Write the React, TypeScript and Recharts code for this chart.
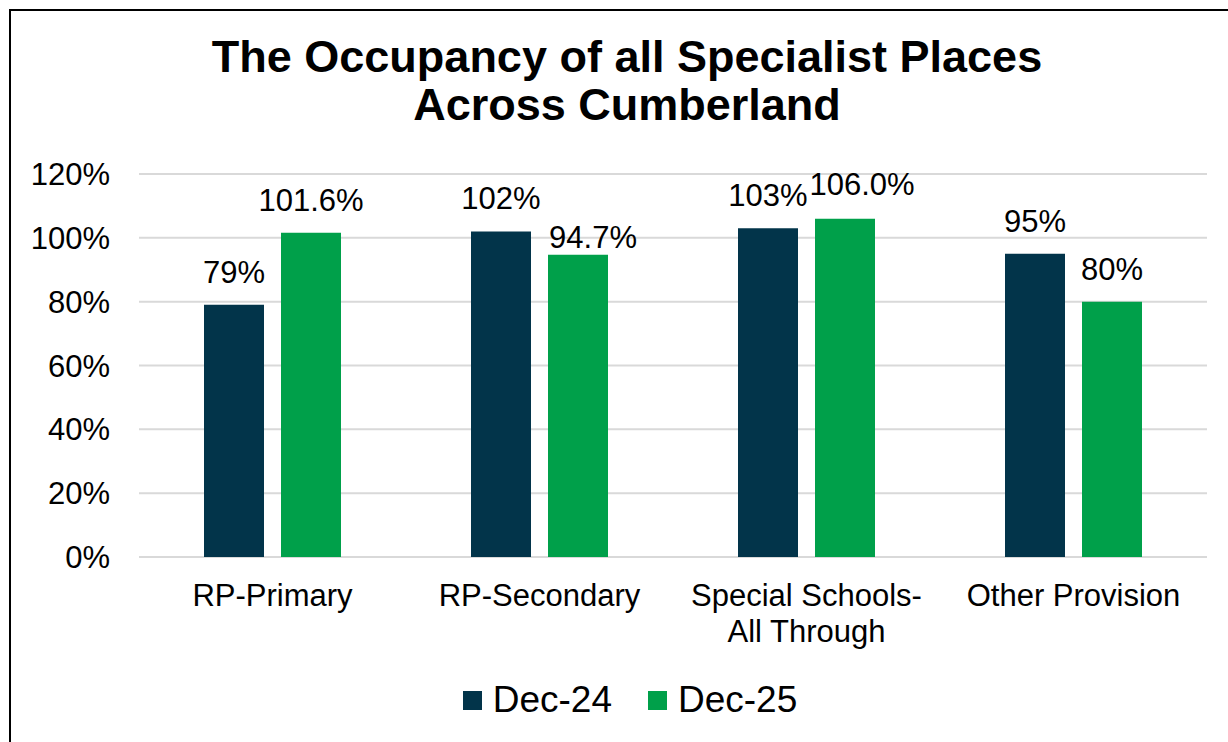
import React from 'react';
import { BarChart, Bar, XAxis, YAxis, CartesianGrid, Legend, LabelList } from 'recharts';

const categories = ['RP-Primary', 'RP-Secondary', 'Special Schools-\nAll Through', 'Other Provision'];
const dec24Values = [79, 102, 103, 95];
const dec25Values = [101.6, 94.7, 106.0, 80];
const dec24Labels = ['79%', '102%', '103%', '95%'];
const dec25Labels = ['101.6%', '94.7%', '106.0%', '80%'];
const yTicks = [0, 20, 40, 60, 80, 100, 120];
const seriesNames = ['Dec-24', 'Dec-25'];
const titleLines = ['The Occupancy of all Specialist Places', 'Across Cumberland'];

const data = categories.map((c, i) => ({ name: c, d24: dec24Values[i], d25: dec25Values[i] }));

const FONT = '"Liberation Sans", Arial, sans-serif';
const DARK = '#02344A';
const GREEN = '#00A04A';

// manual nudges for labels that were moved in the original (dx, dy)
const dec25Nudge = [[0, 0], [15, 15], [17, -2], [0, 0]];

const CatTick = (props: any) => {
  const { x, y, payload } = props;
  const lines = String(payload.value).split('\n');
  return (
    <text x={x} y={y} textAnchor="middle" fontSize={31} fontFamily={FONT} fill="#000">
      {lines.map((l: string, i: number) => (
        <tspan key={i} x={x} dy={i === 0 ? 41 : 36}>{l}</tspan>
      ))}
    </text>
  );
};

const makeLabel = (labels: string[], nudge?: number[][]) => (props: any) => {
  const { x, y, width, index } = props;
  const n = nudge ? nudge[index] : [0, 0];
  return (
    <text x={x + width / 2 + n[0]} y={y - 22 + n[1]} textAnchor="middle" fontSize={31} fontFamily={FONT} fill="#000">
      {labels[index]}
    </text>
  );
};

const LegendContent = () => {
  const colors = [DARK, GREEN];
  return (
    <div style={{ display: 'flex', justifyContent: 'center', alignItems: 'center', height: 40, paddingLeft: 32 }}>
      {seriesNames.map((n, i) => (
        <div key={n} style={{ display: 'flex', alignItems: 'center', marginRight: i === 0 ? 36 : 0 }}>
          <div style={{ width: 19, height: 19, background: colors[i], marginRight: 11 }} />
          <span style={{ fontFamily: FONT, fontSize: 37, color: '#000', lineHeight: '40px' }}>{n}</span>
        </div>
      ))}
    </div>
  );
};

export default function App() {
  return (
    <div style={{ position: 'absolute', left: 0, top: 0, width: 1228, height: 742, background: '#fff', overflow: 'hidden' }}>
      <div style={{ position: 'absolute', left: 9, top: 9, width: 1240, height: 760, borderLeft: '2px solid #000', borderTop: '2px solid #000' }} />
      <svg style={{ position: 'absolute', left: 0, top: 0 }} width={1228} height={742}>
        {titleLines.map((t, i) => (
          <text key={i} x={627} y={72 + i * 48} textAnchor="middle" fontSize={45} fontWeight="bold" fontFamily={FONT} fill="#000">
            {t}
          </text>
        ))}
      </svg>
      <div style={{ position: 'absolute', left: 0, top: 0 }}>
        <BarChart
          width={1228}
          height={742}
          data={data}
          margin={{ top: 174, right: 21, bottom: 45, left: 0 }}
          barSize={60}
          barGap={17}
        >
          <CartesianGrid vertical={false} stroke="#D9D9D9" strokeWidth={2} />
          <XAxis dataKey="name" axisLine={false} tickLine={false} tick={<CatTick />} interval={0} height={100} />
          <YAxis
            domain={[0, 120]}
            ticks={yTicks}
            tickFormatter={(v: number) => `${v}%`}
            axisLine={false}
            tickLine={false}
            width={139}
            tickMargin={23}
            tick={{ fontSize: 31, fontFamily: FONT, fill: '#000' }}
          />
          <Legend
            verticalAlign="bottom"
            content={<LegendContent />}
            wrapperStyle={{ top: 680, bottom: 'auto', left: 0, width: 1228, height: 40 }}
          />
          <Bar dataKey="d24" name={seriesNames[0]} fill={DARK} isAnimationActive={false}>
            <LabelList dataKey="d24" content={makeLabel(dec24Labels)} />
          </Bar>
          <Bar dataKey="d25" name={seriesNames[1]} fill={GREEN} isAnimationActive={false}>
            <LabelList dataKey="d25" content={makeLabel(dec25Labels, dec25Nudge)} />
          </Bar>
        </BarChart>
      </div>
    </div>
  );
}
